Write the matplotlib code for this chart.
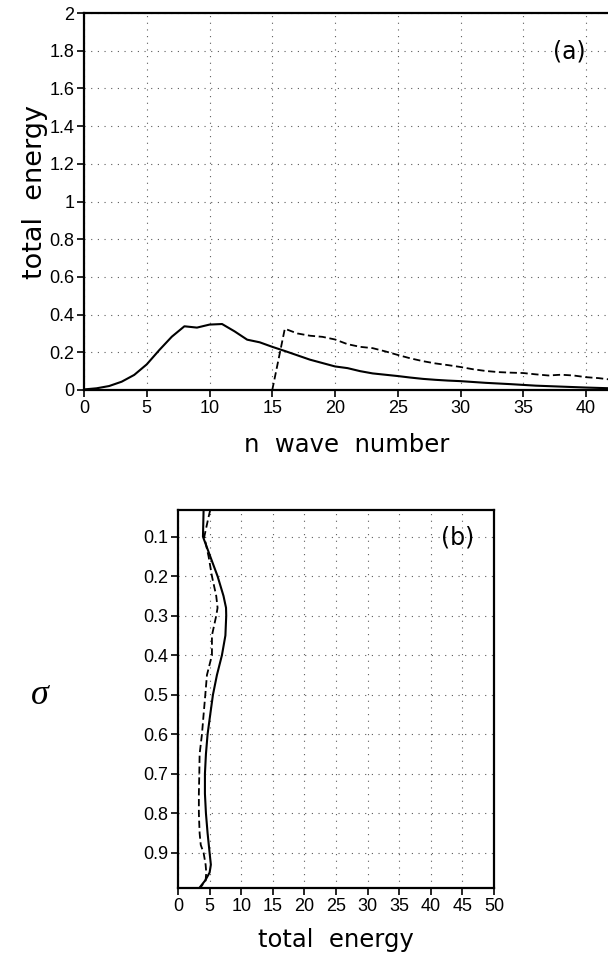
import numpy as np
import matplotlib
matplotlib.use('Agg')
import matplotlib.pyplot as plt

plt.rcParams['font.family'] = ['Liberation Sans Narrow', 'Liberation Sans', 'DejaVu Sans']

# panel (a): energy spectrum vs wave number
n_solid = [0, 1, 2, 3, 4, 5, 6, 7, 8, 9, 10, 11, 12, 13, 14, 15, 16, 17, 18, 19, 20,
           21, 22, 23, 24, 25, 26, 27, 28, 29, 30, 32, 34, 36, 38, 40, 42]
e_solid = [0.003, 0.009, 0.021, 0.044, 0.08, 0.136, 0.212, 0.283, 0.338, 0.331, 0.347,
           0.35, 0.311, 0.267, 0.253, 0.229, 0.207, 0.184, 0.161, 0.143, 0.125,
           0.116, 0.1, 0.088, 0.081, 0.074, 0.066, 0.059, 0.054, 0.05, 0.047, 0.038,
           0.031, 0.023, 0.018, 0.013, 0.009]
n_dash = [15, 16, 17, 18, 19, 20, 21, 22, 23, 24, 25, 26, 27, 28, 29, 30, 31, 32, 33,
          34, 35, 36, 37, 38, 39, 40, 41, 42]
e_dash = [0.0, 0.325, 0.3, 0.288, 0.282, 0.268, 0.243, 0.229, 0.222, 0.205, 0.186,
          0.168, 0.153, 0.141, 0.132, 0.122, 0.11, 0.101, 0.095, 0.092, 0.09, 0.083,
          0.077, 0.081, 0.077, 0.068, 0.063, 0.055]

# panel (b): vertical profile vs sigma
sig_solid = [0.0325, 0.1, 0.15, 0.2, 0.25, 0.28, 0.3, 0.35, 0.4, 0.45, 0.5, 0.55, 0.6,
             0.65, 0.7, 0.75, 0.8, 0.85, 0.9, 0.93, 0.95, 0.97, 0.989]
te_solid = [4.05, 3.95, 5.1, 6.26, 7.2, 7.6, 7.63, 7.5, 6.95, 6.16, 5.53, 5.1, 4.68,
            4.42, 4.26, 4.26, 4.42, 4.68, 5.0, 5.2, 5.0, 4.3, 3.37]
sig_dash = [0.0325, 0.05, 0.1, 0.15, 0.2, 0.25, 0.28, 0.3, 0.35, 0.4, 0.45, 0.5, 0.55,
            0.6, 0.65, 0.7, 0.75, 0.8, 0.85, 0.88, 0.9, 0.93, 0.95, 0.97, 0.989]
te_dash = [5.1, 4.84, 4.16, 4.84, 5.37, 6.05, 6.26, 6.05, 5.37, 5.37, 4.58, 4.32, 4.05,
           3.79, 3.42, 3.37, 3.3, 3.3, 3.42, 3.6, 4.05, 4.37, 4.47, 4.37, 3.5]

a_yticks = [0, 0.2, 0.4, 0.6, 0.8, 1, 1.2, 1.4, 1.6, 1.8, 2]
a_xticks = [0, 5, 10, 15, 20, 25, 30, 35, 40]
b_yticks = [0.1, 0.2, 0.3, 0.4, 0.5, 0.6, 0.7, 0.8, 0.9]
b_xticks = [0, 5, 10, 15, 20, 25, 30, 35, 40, 45, 50]

W, H = 608, 957
fig = plt.figure(figsize=(W / 100, H / 100), dpi=100)

grid_kw = dict(color='#333333', linestyle=(0, (1, 5)), linewidth=0.8, alpha=0.8)


def style(ax):
    for s in ax.spines.values():
        s.set_linewidth(1.6)
    ax.tick_params(direction='out', length=5, width=1.2, labelsize=13, pad=2)
    ax.grid(True, **grid_kw)
    ax.set_axisbelow(True)


# ---- panel (a)
ax1 = fig.add_axes([84 / W, 1 - 390 / H, (W - 84) / W, (390 - 13) / H])
ax1.plot(n_solid, e_solid, color='black', lw=1.5)
ax1.plot(n_dash, e_dash, color='black', lw=1.3, linestyle=(0, (4, 2)))
ax1.set_xlim(0, 41.75)
ax1.set_ylim(0, 2)
ax1.set_xticks(a_xticks)
ax1.set_yticks(a_yticks)
ax1.set_yticklabels(['%g' % v for v in a_yticks])
style(ax1)
ax1.spines['right'].set_visible(False)
ax1.text(569 / W, 1 - 51 / H, '(a)', transform=fig.transFigure, ha='center',
         va='center', fontsize=17, family='DejaVu Sans')

fig.text(347 / W, 1 - 445 / H, 'n  wave  number', ha='center', va='center',
         fontsize=17.5, family='DejaVu Sans')
fig.text(35 / W, 1 - 192 / H, 'total  energy', ha='center', va='center',
         rotation=90, fontsize=19.5, family='DejaVu Sans')

# ---- panel (b)
ax2 = fig.add_axes([178 / W, 1 - 888 / H, (494 - 178) / W, (888 - 510) / H])
ax2.plot(te_solid, sig_solid, color='black', lw=1.5)
ax2.plot(te_dash, sig_dash, color='black', lw=1.3, linestyle=(0, (4, 2)))
ax2.set_xlim(0, 50)
ax2.set_ylim(0.989, 0.0325)
ax2.set_xticks(b_xticks)
ax2.set_yticks(b_yticks)
style(ax2)
ax2.text(458 / W, 1 - 537 / H, '(b)', transform=fig.transFigure, ha='center',
         va='center', fontsize=17, family='DejaVu Sans')

fig.text(336 / W, 1 - 940 / H, 'total  energy', ha='center', va='center',
         fontsize=17.5, family='DejaVu Sans')
fig.text(40 / W, 1 - 695 / H, 'σ', ha='center', va='center', fontsize=26,
         fontstyle='italic', family='Liberation Serif')

fig.savefig('out.png', dpi=100)
